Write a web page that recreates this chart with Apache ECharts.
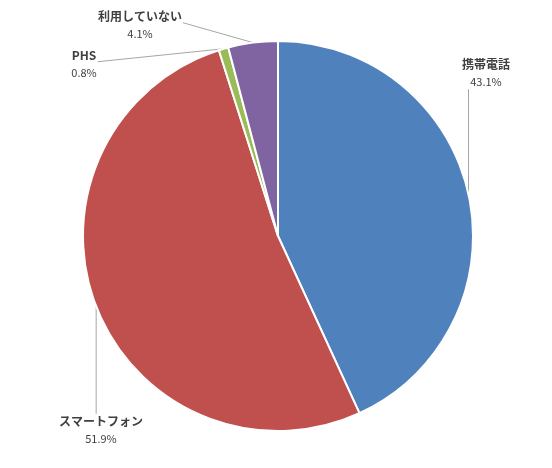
<!DOCTYPE html>
<html>
<head>
<meta charset="utf-8">
<script src="https://cdn.jsdelivr.net/npm/echarts@6/dist/echarts.min.js"></script>
<style>
html, body { margin: 0; padding: 0; background: #fff; }
#pie { width: 552px; height: 468px; }
</style>
</head>
<body>
<div id="pie"></div>
<script>
const names = ['携帯電話', 'スマートフォン', 'PHS', '利用していない']
const values = [43.1, 51.9, 0.8, 4.1]
const colors = ['#4F81BD', '#C0504D', '#9BBB59', '#8064A2']

// where each label sits (label centre, px) and which side the leader line meets it
const labelPos = [[486, 73], [101, 430], [84, 64], [140, 25]]
const lineSide = ['below', 'above', 'right', 'right']

var chart = echarts.init(document.getElementById('pie'));

var data = []
for (var i = 0; i < names.length; i++) {
    data.push({ name: names[i], value: values[i], itemStyle: { color: colors[i] } });
}

var option = {
    animation: false,
    series: [{
        type: 'pie',
        center: [278, 236],
        radius: 195,
        startAngle: 90,
        clockwise: true,
        data: data,
        itemStyle: { borderColor: '#fff', borderWidth: 2 },
        label: {
            show: true,
            position: 'outside',
            overflow: 'none',
            formatter: function (p) {
                return '{n|' + p.name + '}\n{v|' + p.value.toFixed(1) + '%}';
            },
            rich: {
                n: { fontFamily: 'Noto Sans CJK JP', fontSize: 12, fontWeight: 'bold', color: '#404040', lineHeight: 17, align: 'center' },
                v: { fontFamily: 'Noto Sans CJK JP', fontSize: 11, color: '#404040', lineHeight: 17, align: 'center' }
            }
        },
        labelLine: { show: true, length: 10, length2: 10, lineStyle: { color: '#a6a6a6', width: 1 } },
        labelLayout: function (p) {
            var i = p.dataIndex;
            var pos = labelPos[i];
            var w = p.labelRect.width, h = p.labelRect.height;
            var a = p.labelLinePoints[0];
            var end;
            if (lineSide[i] === 'below') end = [a[0], pos[1] + h / 2 + 2];
            else if (lineSide[i] === 'above') end = [a[0], pos[1] - h / 2 - 2];
            else end = [pos[0] + w / 2 + 1, pos[1] - h / 2 + 12];
            return {
                x: pos[0], y: pos[1], align: 'center', verticalAlign: 'middle',
                labelLinePoints: [a, end, end]
            };
        }
    }]
}
chart.setOption(option);
</script>
</body>
</html>
